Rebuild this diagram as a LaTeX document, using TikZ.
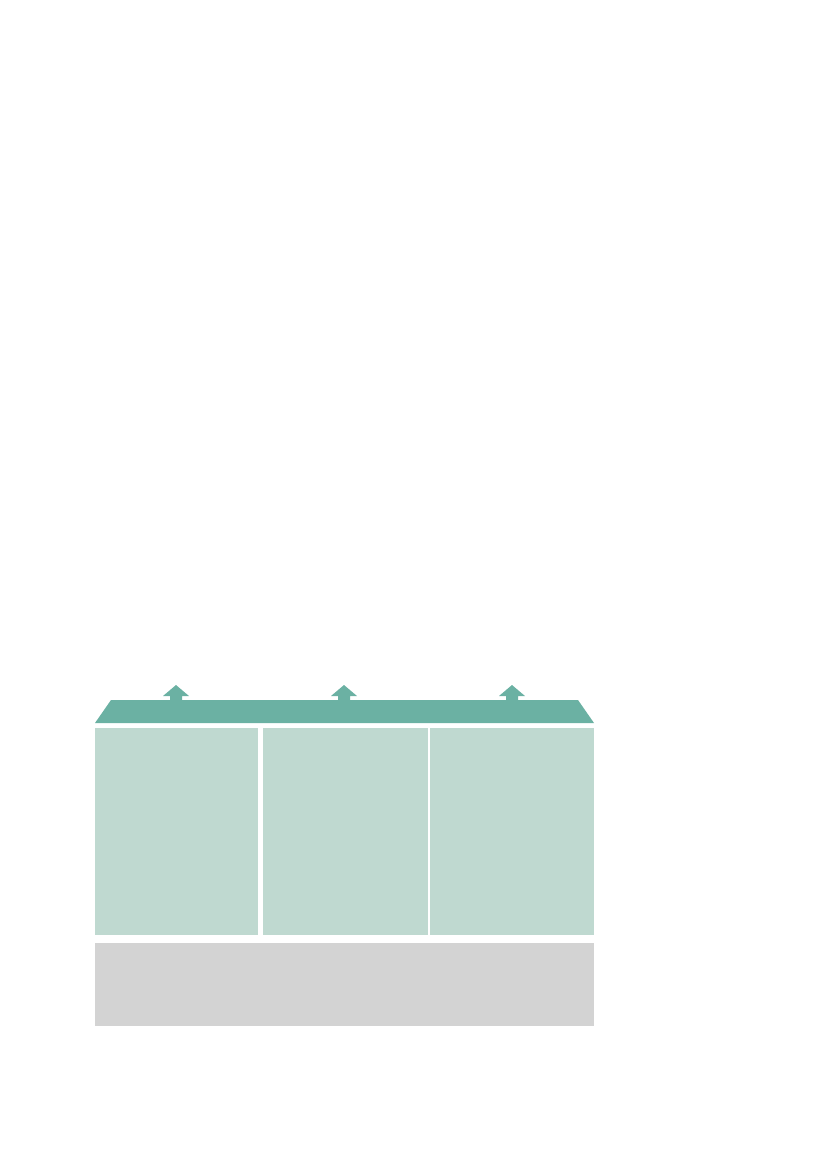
\documentclass[tikz,border=0pt]{standalone}
\definecolor{roofgreen}{HTML}{6BB1A3}
\definecolor{panelgreen}{HTML}{BFD9D0}
\definecolor{basegray}{HTML}{D3D3D3}
\begin{document}
\begin{tikzpicture}[x=1pt,y=-1pt,
  panel/.style={fill=panelgreen,draw=none},
  roof/.style={fill=roofgreen,draw=none},
  base/.style={fill=basegray,draw=none}]
\useasboundingbox (0,0) rectangle (827,1169);
% roof
\path[roof] (95,723) -- (111,700) -- (578,700) -- (594,723) -- cycle;
% arrows
\foreach \cx in {176,344,512}{
  \path[roof] (\cx-6,700) -- (\cx-6,696) -- (\cx-13,696) -- (\cx,685) -- (\cx+13,696) -- (\cx+6,696) -- (\cx+6,700) -- cycle;
}
% panels
\path[panel] (95,728) rectangle (257.5,935);
\path[panel] (262.5,728) rectangle (427.5,935);
\path[panel] (430,728) rectangle (594,935);
% base
\path[base] (95,942.5) rectangle (594,1026);
\end{tikzpicture}
\end{document}
